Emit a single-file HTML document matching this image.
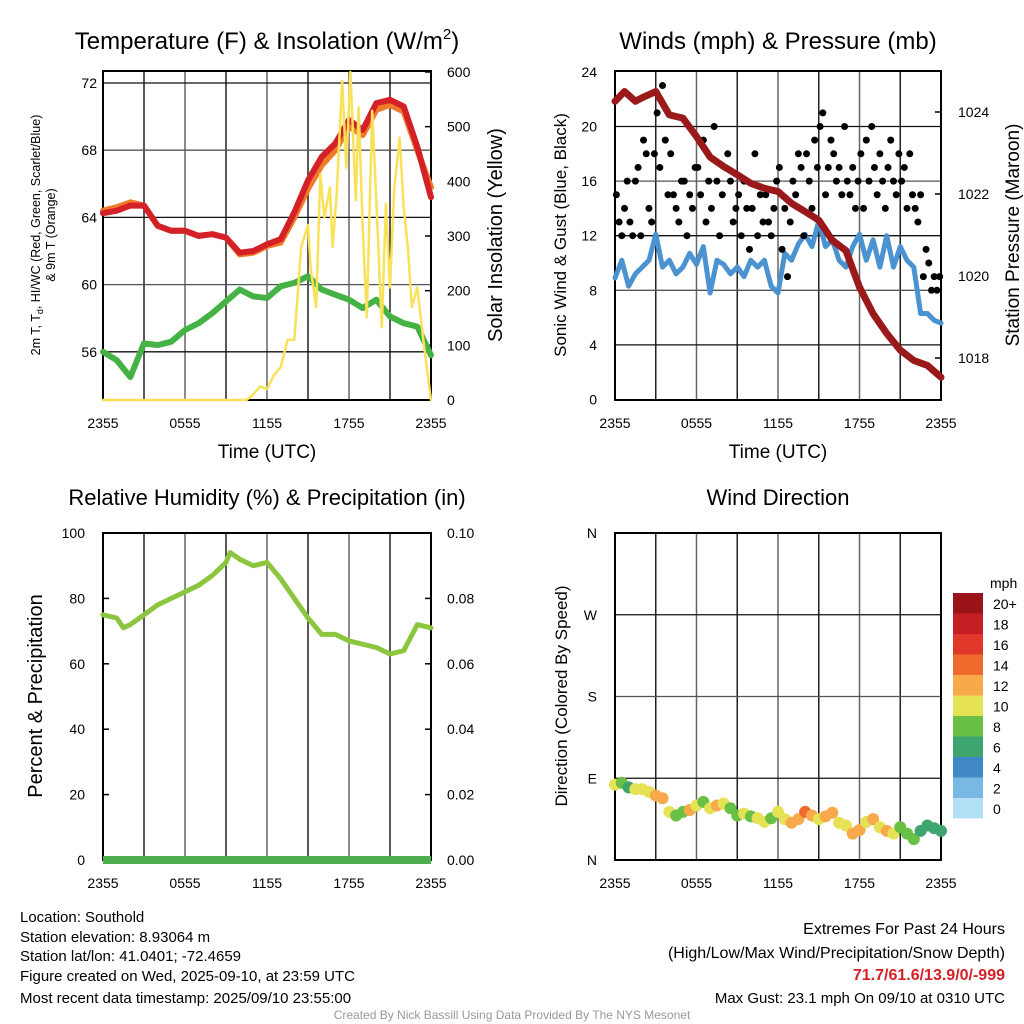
<!DOCTYPE html>
<html><head><meta charset="utf-8"><style>
body{margin:0;background:#fff}
svg{display:block;font-family:"Liberation Sans",Arial,sans-serif}
</style></head><body>
<svg id="c" width="1024" height="1024" viewBox="0 0 1024 1024"></svg>
<script>
// ---- data (hours since 2355 previous day) ----
const hours=[0,1,2,3,4,5,6,7,8,9,10,11,12,13,14,15,16,17,18,19,20,21,22,23,24];
const xTickLabels=["2355","0555","1155","1755","2355"];
const tempF=[64.25,64.4,64.7,64.7,63.5,63.2,63.2,62.9,63,62.8,61.9,62,62.4,62.7,64.3,66.2,67.6,68.4,69.8,69.2,70.8,71,70.6,68.2,65.2];
const temp9m=[64.4,64.6,64.9,64.7,63.5,63.2,63.2,62.9,63,62.8,61.8,61.9,62.3,62.5,64.0,65.7,67.1,68.0,69.4,68.9,70.4,70.7,70.3,68.0,65.8];
const dewF=[56,55.5,54.5,56.5,56.4,56.6,57.3,57.7,58.3,59,59.7,59.3,59.2,59.9,60.1,60.5,59.7,59.4,59.1,58.6,59.1,58.1,57.7,57.5,55.8];
const solarHours=[0,10.5,11,11.5,12,12.5,13,13.5,14,14.5,15,15.2,15.6,15.9,16.2,16.6,16.8,17.1,17.5,17.8,18.1,18.5,18.7,19.0,19.3,19.7,20.0,20.4,20.7,21.0,21.3,21.7,22.0,22.3,22.6,23.0,23.5,24];
const solarW=[0,0,10,25,20,45,60,110,110,280,320,240,170,413,334,389,280,377,584,425,600,365,535,316,151,529,365,133,359,206,383,480,353,280,170,206,96,0];
const windHours=[0,0.5,1,1.5,2,2.5,3,3.5,4,4.5,5,5.5,6,6.5,7,7.5,8,8.5,9,9.5,10,10.5,11,11.5,12,12.5,13,13.5,14,14.5,15,15.5,16,16.5,17,17.5,18,18.5,19,19.5,20,20.5,21,21.5,22,22.5,23,23.5,24];
const windMph=[8.9,10.2,8.3,9.2,9.7,10.2,12.1,9.7,10.2,9.2,9.7,10.7,9.9,11.2,7.8,10.2,9.9,9.2,9.7,9.0,10.2,9.7,10.2,8.3,7.8,10.7,10.2,11.4,12.1,11.2,13.1,11.2,11.7,10.2,9.7,11.2,12.1,10.2,11.7,9.7,12.0,9.7,11.2,10.2,9.7,6.3,6.3,5.8,5.6];
const gustMph=[15,13,12,14,16, 13,12,16,17,12, 19,18,14,13,18, 21,17,23,19,15, 18,15,14,13,16, 16,12,15,14,17, 17,15,19,13,16, 14,20,16,12,15, 17,18,16,13,14, 15,12,16,14,11, 14,18,12,15,13, 15,13,12,14,16, 17,11,14,9,13, 16,15,18,17,12, 18,16,14,19,17, 20,21,15,17,19, 18,16,17,15,20, 16,15,17,14,16, 18,14,19,16,20, 17,15,18,16,14, 17,19,16,15,18, 16,17,14,18,15, 14,13,15,9,11, 10,8,9,8,9];
const pressHours=[0,0.7,1.5,2,3,4,5,6,7,8,9,10,11,12,13,14,15,16,17,18,19,20,21,22,23,24];
const pressMb=[1024.26,1024.5,1024.26,1024.35,1024.5,1023.93,1023.85,1023.4,1022.9,1022.67,1022.47,1022.26,1022.14,1022.06,1021.77,1021.57,1021.36,1020.87,1020.62,1019.73,1019.08,1018.6,1018.19,1017.94,1017.82,1017.53];
const rhHours=[0,1,1.5,2,3,4,5,6,7,8,9,9.3,10,11,12,13,14,15,16,17,18,19,20,21,22,23,24];
const rhPct=[75,74,71,72,75,78,80,82,84,87,91,94,92,90,91,86,80,74,69,69,67,66,65,63,64,72,71];
const precipIn=[0,0];
const dirDeg=[83,85,80,78,78,75,71,68,53,49,53,55,60,64,57,60,62,57,49,51,48,46,42,46,53,45,41,45,53,49,45,48,52,41,38,29,33,42,45,36,32,29,36,29,23,32,38,35,32];
const dirSpeed=[9,8,6,10,10,10,12,12,10,8,8,12,10,8,10,12,10,8,8,10,8,10,10,8,10,10,12,12,14,12,10,12,12,10,10,12,12,10,12,10,12,10,8,8,8,6,6,6,6];
const cbLabels=["20+","18","16","14","12","10","8","6","4","2","0"];
const cbColors=["#9b1419","#c71e25","#e0392b","#f06a2d","#f8a94a","#e6e256","#6abf45","#3fa56e","#3f87c5","#79b8e3","#b3e0f7"];

const NS="http://www.w3.org/2000/svg", svg=document.getElementById('c');
function mk(t,a,p){const e=document.createElementNS(NS,t);for(const k in a)e.setAttribute(k,a[k]);(p||svg).appendChild(e);return e;}
function txt(s,x,y,sz,anchor,extra){const e=mk('text',Object.assign({x:x,y:y,'font-size':sz,'text-anchor':anchor||'middle',fill:'#000'},extra||{}));e.textContent=s;return e;}
function poly(xs,ys,fx,fy,stroke,w){let d='';for(let i=0;i<xs.length;i++)d+=(i?'L':'M')+fx(xs[i]).toFixed(1)+','+fy(ys[i]).toFixed(1);const p=mk('path',{d:d,fill:'none',stroke:stroke,'stroke-width':w,'stroke-linejoin':'round','stroke-linecap':'round'});return p;}

function frame(x0,x1,y0,y1,hgrid,name){
  const g=mk('g',{});
  
  
  for(let i=1;i<8;i++){const x=x0+(x1-x0)*i/8;mk('line',{x1:x,x2:x,y1:y0,y2:y1,stroke:i%2?'#222':'#666','stroke-width':1.5},g);}
  hgrid.forEach((y,i)=>mk('line',{x1:x0,x2:x1,y1:y,y2:y,stroke:i%2?'#555':'#111','stroke-width':1.3},g));
  const r=mk('rect',{x:x0,y:y0,width:x1-x0,height:y1-y0,fill:'none',stroke:'#000','stroke-width':2});
  
  
  xTickLabels.forEach((l,i)=>{const x=x0+(x1-x0)*i/4;const t=txt(l,x,y1+28,14);});
}
function ytick(l,x,y,anchor){const t=txt(l,x,y+5,14,anchor);}

// ---- Panel 1 ----
{const x0=103,x1=431,y0=71,y1=400;
 const fx=h=>x0+h*(x1-x0)/24, fy=v=>83+(72-v)*16.8, fs=v=>400-v*0.5467;
 frame(x0,x1,y0,y1,[72,68,64,60,56].map(fy),'temp-panel');
 [72,68,64,60,56].forEach(v=>ytick(String(v),97,fy(v),'end'));
 [0,100,200,300,400,500,600].forEach(v=>{ytick(String(v),447,fs(v),'start');mk('line',{x1:x1-6,x2:x1,y1:fs(v),y2:fs(v),stroke:'#000','stroke-width':1.5});});
 let p=poly(hours,temp9m,fx,fy,'#f07a2a',6);
 p=poly(hours,tempF,fx,fy,'#d42027',6);
 p=poly(hours,dewF,fx,fy,'#44b244',6);
 p=poly(solarHours,solarW,fx,fs,'#f9e15a',2.5);
 let t=txt('',267,49,24);t.innerHTML='Temperature (F) &amp; Insolation (W/m<tspan font-size="15" dy="-10">2</tspan><tspan dy="10">)</tspan>';
 t=txt('Time (UTC)',267,458,19);
 t=txt('',0,0,12.5,'middle',{transform:'translate(40,235) rotate(-90)'});t.innerHTML='2m T, T<tspan font-size="9" dy="3">d</tspan><tspan dy="-3">, HI/WC (Red, Green, Scarlet/Blue)</tspan>';
 t=txt('& 9m T (Orange)',0,0,12.5,'middle',{transform:'translate(55,235) rotate(-90)'});
 t=txt('Solar Insolation (Yellow)',0,0,20,'middle',{transform:'translate(502,235) rotate(-90)'});
}
// ---- Panel 2 ----
{const x0=615,x1=941,y0=71,y1=400;
 const fx=h=>x0+h*(x1-x0)/24, fy=v=>399.5-v*13.65, fp=v=>112+(1024-v)*41;
 frame(x0,x1,y0,y1,[20,16,12,8,4].map(fy),'wind-panel');
 [24,20,16,12,8,4,0].forEach(v=>ytick(String(v),597,fy(v),'end'));
 [1024,1022,1020,1018].forEach(v=>{ytick(String(v),958,fp(v),'start');mk('line',{x1:x1-6,x2:x1,y1:fp(v),y2:fp(v),stroke:'#000','stroke-width':1.5});});
 let p=poly(windHours,windMph,fx,fy,'#4a93d0',5);
 const g=mk('g',{});
 gustMph.forEach((v,i)=>{const h=(i+0.5)*24/gustMph.length;const c=mk('circle',{cx:fx(h),cy:fy(v),r:3.5,fill:'#000'},g);});
 p=poly(pressHours,pressMb,fx,fp,'#9a1a1c',7);
 let t=txt('Winds (mph) & Pressure (mb)',778,49,24);
 t=txt('Time (UTC)',778,458,19);
 t=txt('Sonic Wind & Gust (Blue, Black)',0,0,17,'middle',{transform:'translate(566,235) rotate(-90)'});
 t=txt('Station Pressure (Maroon)',0,0,19,'middle',{transform:'translate(1019,235) rotate(-90)'});
}
// ---- Panel 3 ----
{const x0=103,x1=431,y0=533,y1=860;
 const fx=h=>x0+h*(x1-x0)/24, fy=v=>860-v*3.27, fpr=v=>860-v*3270;
 frame(x0,x1,y0,y1,[],'rh-panel');
 [100,80,60,40,20,0].forEach(v=>{ytick(String(v),85,fy(v),'end');mk('line',{x1:x0,x2:x0+6,y1:fy(v),y2:fy(v),stroke:'#000','stroke-width':1.5});});
 ["0.10","0.08","0.06","0.04","0.02","0.00"].forEach((l,i)=>{const y=533+i*327/5;ytick(l,447,y,'start');mk('line',{x1:x1-6,x2:x1,y1:y,y2:y,stroke:'#000','stroke-width':1.5});});
 let p=poly(rhHours,rhPct,fx,fy,'#8cc63f',5);
 p=poly([0,24],precipIn,fx,fpr,'#4cae4c',8);p.setAttribute('stroke-linecap','butt');
 let t=txt('Relative Humidity (%) & Precipitation (in)',267,505,22);
 t=txt('Percent & Precipitation',0,0,20,'middle',{transform:'translate(42,696) rotate(-90)'});
}
// ---- Panel 4 ----
{const x0=615,x1=941,y0=533,y1=860;
 const fx=h=>x0+h*(x1-x0)/24, fy=v=>860-v*0.9083;
 frame(x0,x1,y0,y1,[270,180,90].map(fy),'dir-panel');
 ["N","W","S","E","N"].forEach((l,i)=>ytick(l,597,fy(360-i*90),'end'));
 const g=mk('g',{});
 dirDeg.forEach((d,i)=>{const h=i*24/(dirDeg.length-1);const idx=10-Math.min(10,Math.round(dirSpeed[i]/2));
  const c=mk('circle',{cx:fx(h),cy:fy(d),r:6,fill:cbColors[idx]},g);});
 let t=txt('Wind Direction',778,505,22);
 t=txt('Direction (Colored By Speed)',0,0,17,'middle',{transform:'translate(567,696) rotate(-90)'});
 const cb=mk('g',{});
 cbColors.forEach((c,i)=>{const r=mk('rect',{x:953,y:593+i*20.5,width:30,height:20.5,fill:c},cb);
  const l=txt(cbLabels[i],993,593+i*20.5+16,14,'start');});
 t=txt('mph',990,588,14,'start');
}
// ---- Footer text ----
[["Location: Southold",922],["Station elevation: 8.93064 m",942],["Station lat/lon: 41.0401; -72.4659",961],["Figure created on Wed, 2025-09-10, at 23:59 UTC",981],["Most recent data timestamp: 2025/09/10 23:55:00",1003]].forEach(a=>{const t=txt(a[0],20,a[1],15,'start');});
let t=txt('Extremes For Past 24 Hours',1005,934,16,'end');
t=txt('(High/Low/Max Wind/Precipitation/Snow Depth)',1005,958,16,'end');
t=txt('71.7/61.6/13.9/0/-999',1005,980,16,'end',{fill:'#d42027','font-weight':'bold'});
t=txt('Max Gust: 23.1 mph On 09/10 at 0310 UTC',1005,1003,15,'end');
t=txt('Created By Nick Bassill Using Data Provided By The NYS Mesonet',512,1019,12,'middle',{fill:'#999'});
</script>
</body></html>
